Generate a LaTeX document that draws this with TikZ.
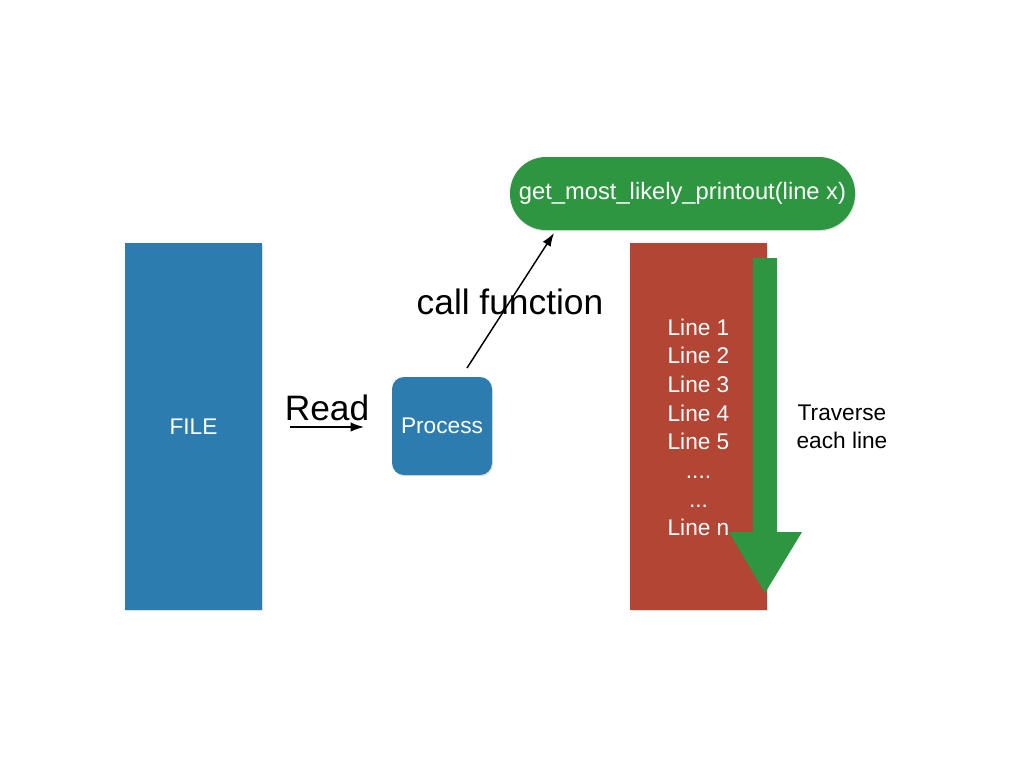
\documentclass[tikz,border=0pt]{standalone}
\usepackage{fontspec}
\setmainfont{Liberation Sans}
\usetikzlibrary{arrows.meta,shadows}
\definecolor{fileblue}{RGB}{45,124,176}
\definecolor{linered}{RGB}{178,69,52}
\definecolor{funcgreen}{RGB}{46,150,64}

\begin{document}
\begin{tikzpicture}[x=0.75pt,y=0.75pt,yscale=-1,xscale=1,
    box/.style={draw=none,text=white,inner sep=0pt,font=\fontsize{17}{20}\selectfont,
      drop shadow={opacity=0.25,shadow xshift=0.6pt,shadow yshift=-0.9pt}},
    conn/.style={-{Latex[length=10pt,width=7pt]},line width=1.1pt},
    biglabel/.style={inner sep=0pt,font=\fontsize{26.5}{30}\selectfont}]
        \useasboundingbox (0,0) rectangle (1024,768);
        % boxes
        \node [box,fill=fileblue,minimum width=102.75pt,minimum height=275.25pt] (file) at (193.5,426.5) {FILE};
        \node [box,fill=fileblue,minimum width=75pt,minimum height=73.5pt,rounded corners=9pt] (proc) at (442,426) {Process};
        \node [box,fill=funcgreen,minimum width=258.75pt,minimum height=54.75pt,rounded corners=27pt,font=\fontsize{17.8}{20}\selectfont] (func) at (682.5,193.5) {get\_most\_likely\_printout(line x)};
        \node [box,fill=linered,minimum width=102.75pt,minimum height=275.25pt] (lines) at (698.5,426.5) {};
        \node [text=white,align=center,inner sep=0pt,font=\fontsize{17}{21.5}\selectfont] (linelist) at (698.5,427.5) {Line 1\\Line 2\\Line 3\\Line 4\\Line 5\\....\\...\\Line n};
        % traverse arrow
        \draw [fill=funcgreen,draw=none] (753,258) -- (777,258) -- (777,532) -- (802,532) -- (765,593) -- (729,532) -- (753,532) -- cycle;
        \node [align=center,inner sep=0pt,font=\fontsize{17}{21}\selectfont] (trav) at (842,427) {Traverse\\each line};
        % connectors
        \coordinate (readstart) at (290,427);
        \coordinate (readend) at (364,427);
        \draw [conn] (readstart) -- (readend);
        \node [biglabel] (readlbl) at (327,408) {Read};
        \coordinate (callstart) at (467,368);
        \coordinate (callend) at (554,233);
        \draw [conn] (callstart) -- (callend);
        \node [biglabel] (calllbl) at (510,302) {call function};
\end{tikzpicture}
\end{document}
